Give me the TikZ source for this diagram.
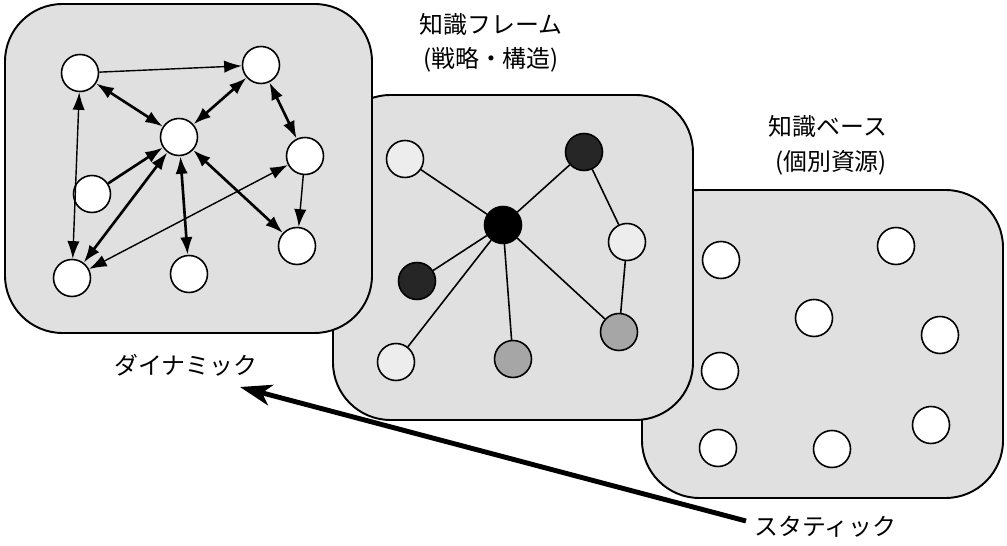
\documentclass[tikz,border=0pt]{standalone}
\usepackage{fontspec}
\newfontfamily\jpfont{Noto Sans CJK JP}
\usetikzlibrary{arrows.meta}
\begin{document}
\begin{tikzpicture}[x=0.02cm,y=-0.02cm,
  panel/.style={draw=black,line width=1.1pt,fill=black!12,rounded corners=1.15cm},
  wc/.style={circle,draw=black,line width=0.9pt,fill=white,minimum size=0.74cm,inner sep=0pt},
  lightc/.style={wc,fill=black!7},
  medc/.style={wc,fill=black!35},
  darkc/.style={wc,fill=black!85},
  blackc/.style={wc,fill=black},
  thinarr/.style={line width=0.8pt},
  thickarr/.style={line width=1.5pt},
  tip/.style={-{Latex[length=10pt,width=7pt]}},
  tips/.style={{Latex[length=10pt,width=7pt]}-{Latex[length=10pt,width=7pt]}},
  link/.style={line width=0.9pt},
  lbl/.style={font=\jpfont\fontsize{13.6}{16}\selectfont,inner sep=0pt},
  bigarrow/.style={line width=2.8pt,-{Stealth[length=18pt,width=12pt,inset=5pt]}}
]
\useasboundingbox (0,0) rectangle (1007,546);

% panels, back to front
\path[panel] (642,190) rectangle (1003,498);
\path[panel] (333,95) rectangle (693,420);
\path[panel] (5,4) rectangle (372,333);

% right panel: individual resources
\node[wc] (r1) at (721,260) {};
\node[wc] (r2) at (896,246) {};
\node[wc] (r3) at (814,318) {};
\node[wc] (r4) at (940,335) {};
\node[wc] (r5) at (720,371) {};
\node[wc] (r6) at (931,425) {};
\node[wc] (r7) at (718,448) {};
\node[wc] (r8) at (832,449) {};

% middle panel: knowledge frame
\node[lightc] (m1) at (405,159) {};
\node[darkc]  (m2) at (584,152) {};
\node[blackc] (m3) at (503,225) {};
\node[lightc] (m4) at (627,242) {};
\node[darkc]  (m5) at (417,281) {};
\node[medc]   (m6) at (619,332) {};
\node[lightc] (m7) at (396,362) {};
\node[medc]   (m8) at (513,359) {};
\draw[link] (m3) -- (m1);
\draw[link] (m3) -- (m2);
\draw[link] (m3) -- (m5);
\draw[link] (m3) -- (m7);
\draw[link] (m3) -- (m8);
\draw[link] (m3) -- (m6);
\draw[link] (m2) -- (m4);
\draw[link] (m4) -- (m6);

% left panel: dynamic network
\node[wc] (a) at (80,73) {};
\node[wc] (b) at (261,65) {};
\node[wc] (c) at (179,137) {};
\node[wc] (d) at (305,156) {};
\node[wc] (e) at (92,194) {};
\node[wc] (f) at (297,246) {};
\node[wc] (g) at (72,278) {};
\node[wc] (h) at (189,274) {};
\draw[thinarr,tip] (a) -- (b);
\draw[thickarr,tips] (a) -- (c);
\draw[thickarr,tips] (b) -- (c);
\draw[thickarr,tips] (b) -- (d);
\draw[thinarr,tips] (a) -- (g);
\draw[thickarr,tip] (e) -- (c);
\draw[thickarr,tips] (g) -- (c);
\draw[thinarr,tips] (d) -- (g);
\draw[thickarr,tips] (c) -- (h);
\draw[thickarr,tips] (c) -- (f);
\draw[thinarr,tip] (d) -- (f);

% labels
\node[lbl] (t1) at (491,24) {知識フレーム};
\node[lbl] (t2) at (491,60) {(戦略・構造)};
\node[lbl] (t3) at (828,126) {知識ベース};
\node[lbl] (t4) at (831,163) {(個別資源)};
\node[lbl] (dyn) at (186,365) {ダイナミック};
\node[lbl,anchor=west] (sta) at (754,527) {スタティック};

% big arrow
\coordinate (tail) at (746,521);
\coordinate (head) at (240,387);
\draw[bigarrow] (tail) -- (head);
\end{tikzpicture}
\end{document}
